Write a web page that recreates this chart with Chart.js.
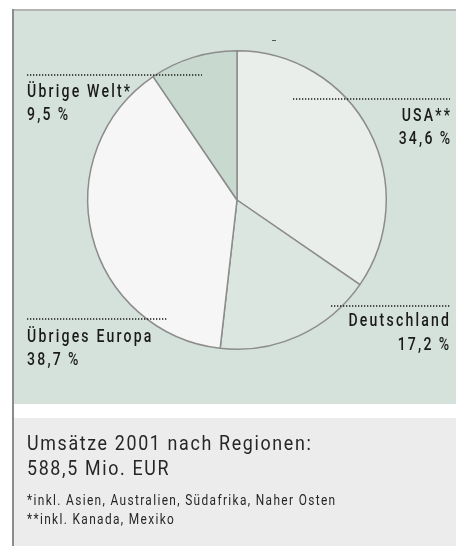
<!DOCTYPE html>
<html><head><meta charset="utf-8">
<script src="https://cdn.jsdelivr.net/npm/chart.js@4.4.1/dist/chart.umd.min.js"></script>
<style>html,body{margin:0;padding:0;background:#fff;}canvas{display:block;}</style>
</head><body>
<canvas id="c" width="456" height="546"></canvas>
<script>
// ---- data ----
const regions = ['USA**', 'Deutschland', 'Übriges Europa', 'Übrige Welt*'];
const shares = [34.6, 17.2, 38.7, 9.5];
const sliceColors = ['#e9eeeb', '#dbe6e0', '#f6f6f6', '#c8d9d0'];
const titleLines = ['Umsätze 2001 nach Regionen:', '588,5 Mio. EUR'];
const footnotes = ['*inkl. Asien, Australien, Südafrika, Naher Osten', '**inkl. Kanada, Mexiko'];

// ---- label layout (positions only) ----
const labelLayout = [
  {lineY: 99,  x1: 293, x2: 450, tx: 450, align: 'right', y1: 121, y2: 144},
  {lineY: 306, x1: 331, x2: 450, tx: 449, align: 'right', y1: 326, y2: 350},
  {lineY: 319, x1: 27,  x2: 167, tx: 27,  align: 'left',  y1: 342, y2: 365},
  {lineY: 75,  x1: 27,  x2: 202, tx: 27,  align: 'left',  y1: 97,  y2: 120}
];
const FONT = 'Roboto, "Liberation Sans", sans-serif';
const labelStyle = {font: '500 18.5px ' + FONT, sx: 0.76, ls: 2.2};
const titleStyle = {font: '400 21px ' + FONT, sx: 0.85, ls: 1.65};
const noteStyle = {font: '400 14px ' + FONT, sx: 0.85, ls: 1.35};
const fmt = v => v.toFixed(1).replace('.', ',') + '\u2009%';

function drawText(ctx, text, x, y, align, st) {
  ctx.save();
  ctx.font = st.font;
  ctx.letterSpacing = '0px';
  const n = [...text].length;
  const w = ctx.measureText(text).width * st.sx + st.ls * (n - 1);
  const x0 = align === 'right' ? x - w : x;
  ctx.translate(x0, y);
  ctx.scale(st.sx, 1);
  ctx.letterSpacing = (st.ls / st.sx) + 'px';
  ctx.textAlign = 'left';
  ctx.textBaseline = 'alphabetic';
  ctx.fillText(text, 0, 0);
  ctx.restore();
}

const decor = {
  id: 'decor',
  beforeDraw(chart) {
    const ctx = chart.ctx;
    ctx.save();
    ctx.fillStyle = '#ffffff'; ctx.fillRect(0, 0, 456, 546);
    ctx.fillStyle = '#d5e2dc'; ctx.fillRect(13, 10, 443, 394);
    ctx.fillStyle = '#ececec'; ctx.fillRect(13, 418, 443, 128);
    ctx.fillStyle = '#b4b4b4'; ctx.fillRect(12, 9, 444, 2);
    ctx.fillStyle = '#8c8c8c'; ctx.fillRect(12, 9, 2, 537);
    ctx.fillStyle = '#555'; ctx.fillRect(272, 40, 4, 1);
    ctx.restore();
  },
  afterDraw(chart) {
    const ctx = chart.ctx;
    ctx.save();
    ctx.fillStyle = '#1a1a1a';
    labelLayout.forEach((L, i) => {
      ctx.strokeStyle = '#1a1a1a';
      ctx.lineWidth = 1.4;
      ctx.setLineDash([1.3, 1.7]);
      ctx.beginPath(); ctx.moveTo(L.x1, L.lineY); ctx.lineTo(L.x2, L.lineY); ctx.stroke();
      ctx.setLineDash([]);
      drawText(ctx, regions[i], L.tx, L.y1, L.align, labelStyle);
      drawText(ctx, fmt(shares[i]), L.tx, L.y2, L.align, labelStyle);
    });
    ctx.fillStyle = '#262626';
    drawText(ctx, titleLines[0], 27, 450, 'left', titleStyle);
    drawText(ctx, titleLines[1], 27, 475, 'left', titleStyle);
    drawText(ctx, footnotes[0], 27, 505, 'left', noteStyle);
    drawText(ctx, footnotes[1], 27, 524, 'left', noteStyle);
    ctx.restore();
  }
};

new Chart(document.getElementById('c'), {
  type: 'pie',
  data: {
    labels: regions,
    datasets: [{
      data: shares,
      backgroundColor: sliceColors,
      borderColor: '#8c8c8c',
      borderWidth: 1.5,
      hoverOffset: 0
    }]
  },
  options: {
    responsive: false,
    animation: false,
    events: [],
    rotation: 0,
    layout: {padding: {left: 87, right: 69, top: 50, bottom: 196}},
    plugins: {legend: {display: false}, tooltip: {enabled: false}}
  },
  plugins: [decor]
});
</script>
</body></html>
